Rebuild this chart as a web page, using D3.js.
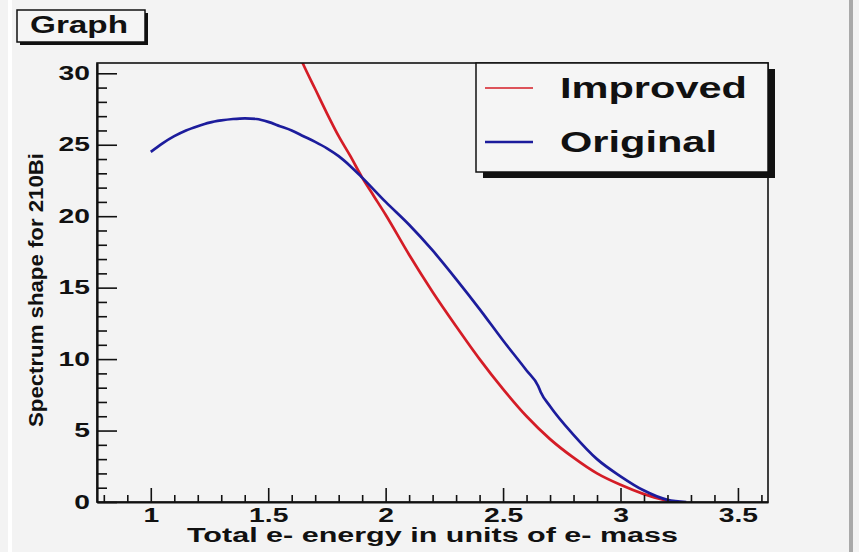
<!DOCTYPE html>
<html>
<head>
<meta charset="utf-8">
<script src="https://cdn.jsdelivr.net/npm/d3@7"></script>
<style>
  body { margin: 0; background: #f3f3f3; }
  svg { display: block; }
  text { font-family: "Liberation Sans", Arial, Helvetica, sans-serif; font-weight: bold; fill: #111; }
</style>
</head>
<body>
<script>
// spectrum shape for 210Bi
const improvedX = [1.60, 1.65, 1.70, 1.75, 1.80, 1.85, 1.90, 1.95, 2.00, 2.10, 2.20, 2.30, 2.40, 2.50, 2.60, 2.70, 2.80, 2.90, 3.00, 3.10, 3.20, 3.22];
const improvedY = [32.5, 30.6, 28.9, 27.2, 25.6, 24.2, 22.7, 21.4, 20.1, 17.3, 14.7, 12.3, 10.0, 7.9, 6.0, 4.4, 3.1, 2.0, 1.2, 0.55, 0.08, 0];

const originalX = [1.00, 1.05, 1.10, 1.15, 1.20, 1.25, 1.30, 1.35, 1.40, 1.45, 1.50, 1.55, 1.60, 1.65, 1.70, 1.75, 1.80, 1.85, 1.90, 2.00, 2.10, 2.20, 2.30, 2.40, 2.50, 2.60, 2.65, 2.66, 2.70, 2.80, 2.90, 3.00, 3.10, 3.20, 3.28];
const originalY = [24.5, 25.1, 25.6, 26.0, 26.3, 26.55, 26.7, 26.8, 26.85, 26.8, 26.6, 26.3, 26.0, 25.6, 25.2, 24.75, 24.2, 23.5, 22.7, 21.0, 19.4, 17.6, 15.6, 13.5, 11.3, 9.2, 8.1, 7.7, 6.7, 4.7, 3.0, 1.8, 0.8, 0.15, 0];

const seriesNames = ['Improved', 'Original'];
const xMajorTicks = [1, 1.5, 2, 2.5, 3, 3.5];
const yMajorTicks = [0, 5, 10, 15, 20, 25, 30];

const width = 859;
const height = 552;
const plotLeft = 97, plotRight = 768, plotTop = 63, plotBottom = 502;
const sx = 1.45; // text in the original is stretched sideways

const xMinorTicks = d3.range(8, 37).map(d => d / 10).filter(d => !xMajorTicks.includes(d));
const yMinorTicks = d3.range(0, 31).filter(d => !yMajorTicks.includes(d));

const xScale = d3.scaleLinear().domain([0.771, 3.628]).range([plotLeft, plotRight]);
const yScale = d3.scaleLinear().domain([0, 30.72]).range([plotBottom, plotTop]);

const svg = d3.select('body')
    .append('svg')
    .attr('width', width)
    .attr('height', height);

// canvas bevel
svg.append('rect').attr('x', 0).attr('y', 0).attr('width', width).attr('height', height).attr('fill', '#f3f3f3');
svg.append('line').attr('x1', 10).attr('x2', 10).attr('y1', 0).attr('y2', height).attr('stroke', '#ffffff').attr('stroke-width', 4);
svg.append('line').attr('x1', 851).attr('x2', 851).attr('y1', 0).attr('y2', height).attr('stroke', '#a9a9a9').attr('stroke-width', 4);

svg.append('clipPath').attr('id', 'plot-clip')
    .append('rect')
    .attr('x', plotLeft).attr('y', plotTop)
    .attr('width', plotRight - plotLeft).attr('height', plotBottom - plotTop);

const line = d3.line()
    .curve(d3.curveMonotoneX)
    .x(d => xScale(d[0]))
    .y(d => yScale(d[1]));

const improved = improvedX.map((x, i) => [x, improvedY[i]]);
const original = originalX.map((x, i) => [x, originalY[i]]);

const colors = ['#d41c26', '#1c1c9c'];

svg.append('g').attr('clip-path', 'url(#plot-clip)')
    .selectAll('path')
    .data([improved, original])
    .enter()
    .append('path')
    .attr('d', line)
    .attr('fill', 'none')
    .attr('stroke', (d, i) => colors[i])
    .attr('stroke-width', 2.7)
    .attr('stroke-linejoin', 'round');

// frame
svg.append('rect')
    .attr('x', plotLeft).attr('y', plotTop)
    .attr('width', plotRight - plotLeft).attr('height', plotBottom - plotTop)
    .attr('fill', 'none')
    .attr('stroke', '#111')
    .attr('stroke-width', 1.6);

// x axis
const xAxis = svg.append('g')
    .attr('transform', 'translate(0,' + plotBottom + ')')
    .call(d3.axisBottom(xScale).tickValues(xMajorTicks).tickSize(-14).tickSizeOuter(0).tickPadding(6).tickFormat(d3.format('')));
svg.append('g')
    .attr('transform', 'translate(0,' + plotBottom + ')')
    .call(d3.axisBottom(xScale).tickValues(xMinorTicks).tickSize(-7).tickSizeOuter(0).tickFormat(''))
    .select('.domain').remove();

xAxis.selectAll('text')
    .attr('font-size', 19.5)
    .attr('transform', 'scale(' + sx + ',1)');

// y axis
const yAxis = svg.append('g')
    .attr('transform', 'translate(' + plotLeft + ',0)')
    .call(d3.axisLeft(yScale).tickValues(yMajorTicks).tickSize(-20).tickSizeOuter(0).tickPadding(7));
svg.append('g')
    .attr('transform', 'translate(' + plotLeft + ',0)')
    .call(d3.axisLeft(yScale).tickValues(yMinorTicks).tickSize(-10).tickSizeOuter(0).tickFormat(''))
    .select('.domain').remove();

yAxis.selectAll('text')
    .attr('font-size', 19.5)
    .attr('x', 0)
    .attr('transform', 'translate(-7,0) scale(' + sx + ',1)');

svg.selectAll('.domain').attr('stroke', '#111').attr('stroke-width', 2.2);
svg.selectAll('.tick line').attr('stroke', '#111').attr('stroke-width', 1.6);
svg.selectAll('.tick text').attr('font-family', '"Liberation Sans", Arial, sans-serif').attr('fill', '#111');

// axis titles
svg.append('text')
    .attr('x', 432.5).attr('y', 542)
    .attr('text-anchor', 'middle')
    .attr('font-size', 19.5)
    .attr('textLength', 491)
    .attr('lengthAdjust', 'spacingAndGlyphs')
    .text('Total e- energy in units of e- mass');

svg.append('text')
    .attr('transform', 'translate(43,290) rotate(-90)')
    .attr('text-anchor', 'middle')
    .attr('font-size', 21)
    .attr('textLength', 274)
    .attr('lengthAdjust', 'spacingAndGlyphs')
    .text('Spectrum shape for 210Bi');

// title box
svg.append('rect').attr('x', 20).attr('y', 13).attr('width', 128).attr('height', 32).attr('fill', '#111');
svg.append('rect').attr('x', 17).attr('y', 10).attr('width', 128).attr('height', 32)
    .attr('fill', '#f5f5f5').attr('stroke', '#111').attr('stroke-width', 1.5);
svg.append('text')
    .attr('x', 30).attr('y', 33)
    .attr('font-size', 23)
    .attr('textLength', 98)
    .attr('lengthAdjust', 'spacingAndGlyphs')
    .text('Graph');

// legend
const legend = svg.append('g');
legend.append('rect').attr('x', 483).attr('y', 69).attr('width', 292).attr('height', 109).attr('fill', '#111');
legend.append('rect').attr('x', 476).attr('y', 63).attr('width', 292).attr('height', 109)
    .attr('fill', '#f5f5f5').attr('stroke', '#111').attr('stroke-width', 1.5);

const legendRows = [88, 142];
const legendWidths = [187, 157];
legend.selectAll('line.key')
    .data(seriesNames)
    .enter()
    .append('line')
    .attr('class', 'key')
    .attr('x1', 485).attr('x2', 533)
    .attr('y1', (d, i) => legendRows[i]).attr('y2', (d, i) => legendRows[i])
    .attr('stroke', (d, i) => colors[i])
    .attr('stroke-width', (d, i) => i === 0 ? 1.6 : 2.6);
legend.selectAll('text')
    .data(seriesNames)
    .enter()
    .append('text')
    .attr('x', 560)
    .attr('y', (d, i) => legendRows[i] + 10)
    .attr('font-size', 29)
    .attr('textLength', (d, i) => legendWidths[i])
    .attr('lengthAdjust', 'spacingAndGlyphs')
    .text(d => d);
</script>
</body>
</html>
